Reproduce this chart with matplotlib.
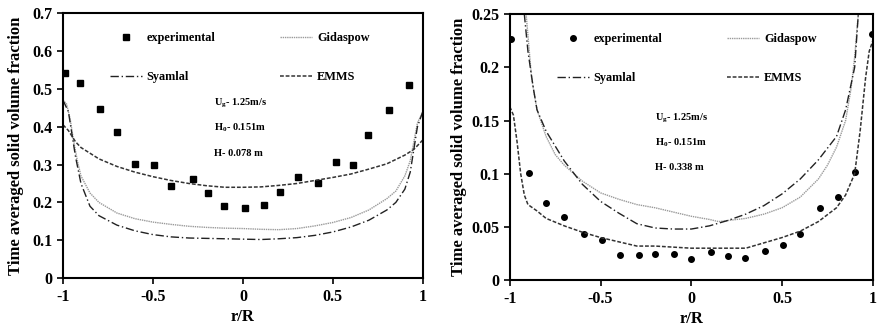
import matplotlib
matplotlib.use("Agg")
import matplotlib.pyplot as plt
from matplotlib.ticker import FuncFormatter

plt.rcParams["font.family"] = ["Liberation Serif", "DejaVu Serif"]
plt.rcParams["font.weight"] = "bold"
plt.rcParams["axes.unicode_minus"] = False
plt.rcParams["mathtext.fontset"] = "custom"
plt.rcParams["mathtext.rm"] = "Liberation Serif:bold"
plt.rcParams["mathtext.it"] = "Liberation Serif:bold"

# ---- left panel (H = 0.078 m) ----
exp_x1 = [-0.99, -0.907, -0.793, -0.70, -0.598, -0.494, -0.398, -0.278, -0.194, -0.106,
          0.009, 0.12, 0.207, 0.304, 0.417, 0.519, 0.611, 0.698, 0.811, 0.922]
exp_y1 = [0.542, 0.516, 0.447, 0.385, 0.302, 0.300, 0.244, 0.262, 0.224, 0.190,
          0.184, 0.193, 0.227, 0.268, 0.251, 0.306, 0.298, 0.378, 0.443, 0.509]

emms_x1 = [-1.0, -0.97, -0.93, -0.9, -0.8, -0.7, -0.6, -0.5, -0.4, -0.3, -0.2, -0.1, 0.0,
           0.1, 0.2, 0.3, 0.4, 0.5, 0.6, 0.7, 0.8, 0.9, 0.95, 1.0]
emms_y1 = [0.405, 0.39, 0.36, 0.345, 0.315, 0.295, 0.28, 0.268, 0.258, 0.250, 0.244, 0.240, 0.240,
           0.241, 0.245, 0.250, 0.258, 0.266, 0.275, 0.288, 0.302, 0.325, 0.34, 0.365]

gid_x1 = [-1.0, -0.98, -0.96, -0.94, -0.92, -0.9, -0.85, -0.8, -0.7, -0.6, -0.5, -0.4, -0.3, -0.2,
          -0.1, 0.0, 0.1, 0.2, 0.3, 0.4, 0.5, 0.6, 0.7, 0.8, 0.85, 0.9, 0.93, 0.95, 0.97, 1.0]
gid_y1 = [0.47, 0.46, 0.42, 0.36, 0.31, 0.27, 0.225, 0.20, 0.172, 0.157, 0.148, 0.142, 0.137, 0.134,
          0.132, 0.131, 0.129, 0.128, 0.131, 0.138, 0.147, 0.16, 0.18, 0.21, 0.23, 0.27, 0.31, 0.36, 0.41, 0.44]

sya_x1 = [-1.0, -0.97, -0.95, -0.93, -0.9, -0.85, -0.8, -0.7, -0.6, -0.5, -0.4, -0.3, -0.2, -0.1,
          0.0, 0.1, 0.2, 0.3, 0.4, 0.5, 0.6, 0.7, 0.8, 0.85, 0.9, 0.93, 0.95, 0.97, 1.0]
sya_y1 = [0.47, 0.44, 0.38, 0.32, 0.25, 0.19, 0.165, 0.14, 0.125, 0.115, 0.109, 0.106, 0.105, 0.104,
          0.103, 0.102, 0.104, 0.107, 0.113, 0.122, 0.135, 0.153, 0.18, 0.20, 0.235, 0.28, 0.34, 0.40, 0.44]

# ---- right panel (H = 0.338 m) ----
exp_x2 = [-0.995, -0.893, -0.80, -0.70, -0.592, -0.494, -0.395, -0.287, -0.202, -0.096, 0.0,
          0.107, 0.200, 0.298, 0.408, 0.504, 0.601, 0.710, 0.807, 0.901, 0.996]
exp_y2 = [0.227, 0.1006, 0.0727, 0.0595, 0.0432, 0.0376, 0.0232, 0.0232, 0.0244, 0.0244, 0.0197,
          0.026, 0.0222, 0.021, 0.0276, 0.0329, 0.0435, 0.0674, 0.0783, 0.102, 0.231]

emms_x2 = [-1.0, -0.98, -0.96, -0.94, -0.92, -0.9, -0.85, -0.8, -0.7, -0.6, -0.5, -0.4, -0.3, -0.2,
           -0.1, 0.0, 0.1, 0.2, 0.3, 0.4, 0.5, 0.6, 0.7, 0.8, 0.85, 0.9, 0.93, 0.96, 0.98, 1.0]
emms_y2 = [0.163, 0.155, 0.13, 0.10, 0.08, 0.071, 0.065, 0.058, 0.051, 0.045, 0.040, 0.036, 0.032, 0.032,
           0.031, 0.030, 0.030, 0.030, 0.030, 0.035, 0.040, 0.046, 0.055, 0.068, 0.08, 0.10, 0.14, 0.19, 0.215, 0.225]

gid_x2 = [-0.91, -0.9, -0.88, -0.85, -0.8, -0.75, -0.7, -0.6, -0.5, -0.4, -0.3, -0.2, -0.1, 0.0,
          0.1, 0.15, 0.2, 0.3, 0.4, 0.5, 0.6, 0.7, 0.75, 0.8, 0.85, 0.88, 0.9, 0.92]
gid_y2 = [0.25, 0.23, 0.19, 0.16, 0.135, 0.118, 0.108, 0.093, 0.082, 0.076, 0.071, 0.068, 0.064, 0.060,
          0.057, 0.055, 0.056, 0.058, 0.062, 0.068, 0.078, 0.095, 0.108, 0.125, 0.15, 0.18, 0.21, 0.25]

sya_x2 = [-0.92, -0.9, -0.87, -0.85, -0.8, -0.7, -0.6, -0.5, -0.4, -0.3, -0.2, -0.1, 0.0,
          0.1, 0.2, 0.3, 0.4, 0.5, 0.6, 0.7, 0.8, 0.85, 0.9, 0.92]
sya_y2 = [0.25, 0.215, 0.18, 0.16, 0.14, 0.112, 0.09, 0.074, 0.063, 0.053, 0.049, 0.048, 0.048,
          0.051, 0.056, 0.062, 0.070, 0.081, 0.095, 0.113, 0.135, 0.16, 0.20, 0.25]

fig = plt.figure(figsize=(8.82, 3.28), dpi=100)
ax1 = fig.add_axes([0.0714, 0.152, 0.408, 0.808])
ax2 = fig.add_axes([0.578, 0.146, 0.4116, 0.811])


def draw(ax, ex, ey, gx, gy, sx, sy, mx, my, marker, ms, ymax, yticks, texts, tpos, ypad):
    h_exp, = ax.plot(ex, ey, linestyle="none", marker=marker, color="black", markersize=ms,
                     label="experimental")
    h_gid, = ax.plot(gx, gy, color="#9a9a9a", linestyle=(0, (1, 0.6)), linewidth=1.0, label="Gidaspow")
    h_sya, = ax.plot(sx, sy, color="#222222", linestyle=(0, (6, 2, 1, 2)), linewidth=1.0, label="Syamlal")
    h_emm, = ax.plot(mx, my, color="#333333", linestyle=(0, (2.5, 1.2)), linewidth=1.1, label="EMMS")
    ax.set_xlim(-1, 1)
    ax.set_ylim(0, ymax)
    ax.set_xticks([-1, -0.5, 0, 0.5, 1])
    ax.set_yticks(yticks)
    ax.xaxis.set_major_formatter(FuncFormatter(lambda v, p: f"{v:g}"))
    ax.yaxis.set_major_formatter(FuncFormatter(lambda v, p: f"{v:g}"))
    ax.tick_params(labelsize=11.5, width=1.2, length=4)
    for lab in ax.get_xticklabels() + ax.get_yticklabels():
        lab.set_fontweight("bold")
    for sp in ax.spines.values():
        sp.set_linewidth(1.5)
    ax.set_xlabel("r/R", fontsize=12, fontweight="bold", labelpad=3)
    ax.set_ylabel("Time averaged solid volume fraction", fontsize=12, fontweight="bold", labelpad=ypad)
    ax.legend([h_exp, h_sya, h_gid, h_emm], ["experimental", "Syamlal", "Gidaspow", "EMMS"],
              ncol=2, frameon=False, loc="upper left", bbox_to_anchor=(0.1, 0.97),
              prop={"size": 8.8, "weight": "bold"}, labelspacing=2.2, columnspacing=5.3,
              handlelength=2.6, handletextpad=0.4)
    for t, (tx, ty) in zip(texts, tpos):
        ax.text(tx, ty, t, transform=ax.transAxes, fontsize=7.5, fontweight="bold", va="center")


draw(ax1, exp_x1, exp_y1, gid_x1, gid_y1, sya_x1, sya_y1, emms_x1, emms_y1, "s", 4, 0.7,
     [0, 0.1, 0.2, 0.3, 0.4, 0.5, 0.6, 0.7],
     ["U$_g$- 1.25m/s", "H$_0$- 0.151m", "H- 0.078 m"],
     [(0.42, 0.66), (0.42, 0.566), (0.42, 0.47)], 6)
draw(ax2, exp_x2, exp_y2, gid_x2, gid_y2, sya_x2, sya_y2, emms_x2, emms_y2, "o", 4, 0.25,
     [0, 0.05, 0.1, 0.15, 0.2, 0.25],
     ["U$_g$- 1.25m/s", "H$_0$- 0.151m", "H- 0.338 m"],
     [(0.40, 0.609), (0.40, 0.515), (0.40, 0.425)], 3)

fig.savefig("out.png", dpi=100)
